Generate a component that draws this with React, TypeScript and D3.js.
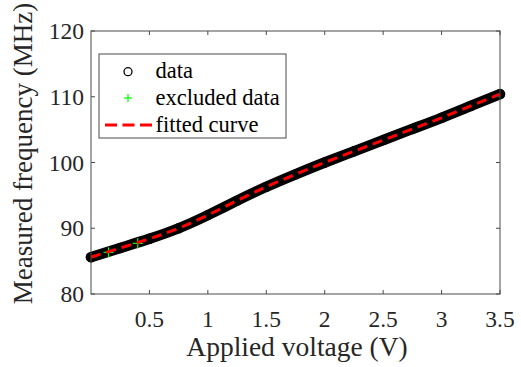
import { curveNatural, line, scaleLinear } from "d3";

const voltage = [0, 0.25, 0.5, 0.75, 1, 1.25, 1.5, 1.75, 2, 2.25, 2.5, 2.75, 3, 3.25, 3.5];
const frequency = [85.6, 87.0, 88.4, 90.0, 92.0, 94.2, 96.3, 98.2, 100.0, 101.7, 103.4, 105.1, 106.8, 108.6, 110.4];
const fitted = [85.6, 87.0, 88.4, 90.0, 92.0, 94.2, 96.3, 98.2, 100.0, 101.7, 103.4, 105.1, 106.8, 108.6, 110.4];
const excludedV = [0.15, 0.4];
const excludedF = [86.34, 87.7];
const xTicks = [0.5, 1, 1.5, 2, 2.5, 3, 3.5];
const yTicks = [80, 90, 100, 110, 120];
const legendItems = ["data", "excluded data", "fitted curve"];

export default function App() {
  const width = 521;
  const height = 367;
  const margin = { top: 31, right: 21, bottom: 73, left: 91 };
  const fontStyle = { fontFamily: '"Liberation Serif", "DejaVu Serif", "Times New Roman", serif' };
  const axisColor = "#4a4a4a";

  const x = scaleLinear().domain([0, 3.5]).range([margin.left, width - margin.right]);
  const y = scaleLinear().domain([80, 120]).range([height - margin.bottom, margin.top]);

  const pts = voltage.map((v, i) => ({ v, f: frequency[i] }));
  const fitPts = voltage.map((v, i) => ({ v, f: fitted[i] }));
  const path = line<{ v: number; f: number }>()
    .curve(curveNatural)
    .x((d) => x(d.v))
    .y((d) => y(d.f));

  const x0 = margin.left;
  const x1 = width - margin.right;
  const y0 = height - margin.bottom;
  const y1 = margin.top;
  const tick = 4;

  // legend box
  const lg = { left: 99, top: 54, right: 286, bottom: 138 };
  const rowY = [71.7, 98, 125];

  return (
    <svg
      width={width}
      height={height}
      viewBox={`0 0 ${width} ${height}`}
      style={{ position: "absolute", left: 0, top: 0, background: "#fff" }}
    >
      <rect x={0} y={0} width={width} height={height} fill="#fff" />

      {/* data band: markers are so dense they merge */}
      <path
        d={path(pts) ?? ""}
        fill="none"
        stroke="#000"
        strokeWidth={10.5}
        strokeLinecap="round"
        strokeLinejoin="round"
      />
      {pts.map((d) => (
        <circle key={`c-${d.v}`} cx={x(d.v)} cy={y(d.f)} r={5.2} fill="#000" />
      ))}

      {excludedV.map((v, i) => (
        <g key={`ex-${v}`} stroke="#00ff00" strokeWidth={1.2}>
          <line x1={x(v) - 5} x2={x(v) + 5} y1={y(excludedF[i])} y2={y(excludedF[i])} />
          <line x1={x(v)} x2={x(v)} y1={y(excludedF[i]) - 5} y2={y(excludedF[i]) + 5} />
        </g>
      ))}

      <path
        d={path(fitPts) ?? ""}
        fill="none"
        stroke="#ff0000"
        strokeWidth={3}
        strokeDasharray="10 6"
      />

      {/* axes box */}
      <rect x={x0} y={y1} width={x1 - x0} height={y0 - y1} fill="none" stroke={axisColor} strokeWidth={1} />
      {xTicks.map((t) => (
        <g key={`xt-${t}`}>
          <line x1={x(t)} x2={x(t)} y1={y0} y2={y0 - tick} stroke={axisColor} />
          <line x1={x(t)} x2={x(t)} y1={y1} y2={y1 + tick} stroke={axisColor} />
          <text x={x(t)} y={327} textAnchor="middle" style={fontStyle} fontSize={23.5} fill="#262626">
            {t}
          </text>
        </g>
      ))}
      {yTicks.map((t) => (
        <g key={`yt-${t}`}>
          <line x1={x0} x2={x0 + tick} y1={y(t)} y2={y(t)} stroke={axisColor} />
          <line x1={x1} x2={x1 - tick} y1={y(t)} y2={y(t)} stroke={axisColor} />
          <text x={84} y={y(t) + 8} textAnchor="end" style={fontStyle} fontSize={23.5} fill="#262626">
            {t}
          </text>
        </g>
      ))}

      <text x={297} y={355.5} textAnchor="middle" style={fontStyle} fontSize={27.5} fill="#262626">
        Applied voltage (V)
      </text>
      <text
        transform={`translate(32, 153.5) rotate(-90)`}
        textAnchor="middle"
        style={fontStyle}
        fontSize={27}
        fill="#262626"
      >
        Measured frequency (MHz)
      </text>

      {/* legend */}
      <rect
        x={lg.left}
        y={lg.top}
        width={lg.right - lg.left}
        height={lg.bottom - lg.top}
        fill="#fff"
        stroke={axisColor}
        strokeWidth={1}
      />
      <circle cx={128} cy={rowY[0]} r={4} fill="none" stroke="#000" strokeWidth={1.3} />
      <g stroke="#00ff00" strokeWidth={1.2}>
        <line x1={124} x2={132} y1={rowY[1]} y2={rowY[1]} />
        <line x1={128} x2={128} y1={rowY[1] - 4} y2={rowY[1] + 4} />
      </g>
      <line
        x1={105}
        x2={152}
        y1={rowY[2]}
        y2={rowY[2]}
        stroke="#ff0000"
        strokeWidth={3}
        strokeDasharray="12 5.5"
      />
      {legendItems.map((label, i) => (
        <text key={label} x={155.5} y={rowY[i] + 6.5} style={fontStyle} fontSize={22.5} fill="#000">
          {label}
        </text>
      ))}
    </svg>
  );
}
